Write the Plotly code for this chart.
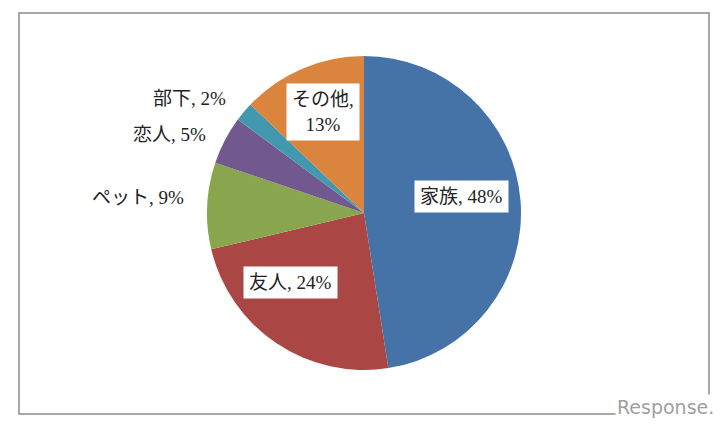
import plotly.graph_objects as go

W, H = 726, 431

labels = ["家族", "友人", "ペット", "恋人", "部下", "その他"]
values = [48, 24, 9, 5, 2, 13]
colors = ["#4572A7", "#AA4643", "#89A54E", "#71588F", "#4198AF", "#DB843D"]

# label placement in pixels (x, y from top), anchor, boxed
label_pos = [(461, 196, "center", True), (290, 282, "center", True),
             (190, 198, "right", False), (212, 135, "right", False),
             (232, 98, "right", False), (323, 112, "center", True)]

FONT = "Liberation Serif, Noto Sans CJK JP, serif"

cx, cy, r = 364, 213, 157

fig = go.Figure(go.Pie(
    labels=labels, values=values, sort=False, direction="clockwise", rotation=0,
    marker=dict(colors=colors, line=dict(width=0)),
    textinfo="none", hoverinfo="label+percent", showlegend=False,
    domain=dict(x=[(cx - r) / W, (cx + r) / W], y=[(H - cy - r) / H, (H - cy + r) / H]),
))

annotations = []
for lab, val, (px_, py_, anchor, boxed) in zip(labels, values, label_pos):
    txt = f"{lab}, {val}%"
    if lab == "その他":
        txt = f"{lab},<br>{val}%"
    annotations.append(dict(
        x=px_ / W, y=1 - py_ / H, xref="paper", yref="paper",
        text=txt, showarrow=False, xanchor=anchor, yanchor="middle",
        font=dict(family=FONT, size=19, color="#222222"),
        bgcolor="white" if boxed else None, borderpad=5,
    ))

annotations.append(dict(
    x=716 / W, y=1 - 407 / H, xref="paper", yref="paper",
    text="Response.", showarrow=False, xanchor="right", yanchor="middle",
    font=dict(family="DejaVu Sans", size=19, color="#a0a0a0"), bgcolor="white",
))

fig.update_layout(
    width=W, height=H, margin=dict(l=0, r=0, t=0, b=0),
    paper_bgcolor="white", plot_bgcolor="white",
    annotations=annotations,
    shapes=[dict(type="rect", xref="paper", yref="paper",
                 x0=19 / W, x1=709 / W, y0=1 - 414 / H, y1=1 - 13 / H,
                 line=dict(color="#8c8c8c", width=1.5), layer="below")],
)

fig.write_html("out.html", config={"displayModeBar": False},
               post_script="document.body.style.margin='0';")
